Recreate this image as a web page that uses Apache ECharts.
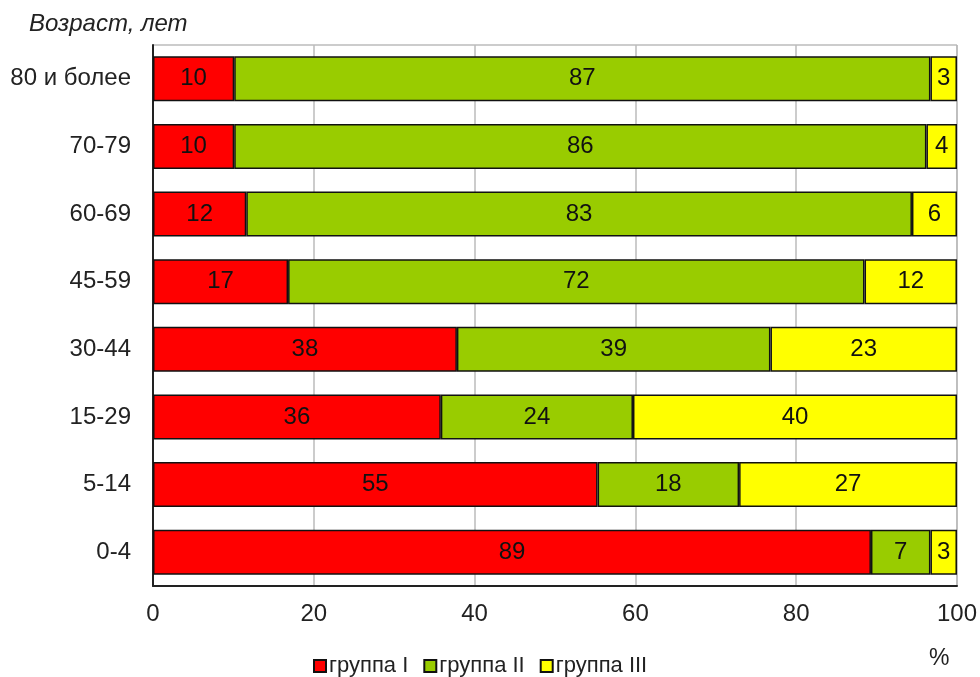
<!DOCTYPE html>
<html>
<head>
<meta charset="utf-8">
<script src="https://cdn.jsdelivr.net/npm/echarts@6/dist/echarts.min.js"></script>
<style>
  html, body { margin: 0; padding: 0; background: #fff; }
  #chart { width: 980px; height: 677px; }
</style>
</head>
<body>
<div id="chart"></div>
<script>
// age groups, bottom to top
const ageGroups = ["0-4", "5-14", "15-29", "30-44", "45-59", "60-69", "70-79", "80 и более"];
const seriesNames = ["группа I", "группа II", "группа III"];
// shares, % (labels are rounded)
const group1 = [89.3, 55.3, 35.8, 37.8, 16.8, 11.6, 10.1, 10.1];
const group2 = [7.4, 17.6, 23.9, 39.0, 71.7, 82.8, 86.1, 86.6];
const group3 = [3.3, 27.1, 40.3, 23.2, 11.5, 5.6, 3.8, 3.3];
const xTicks = [0, 20, 40, 60, 80, 100];

const colors = ["#ff0000", "#99cc00", "#ffff00"];
const font = "Liberation Sans, Arial, sans-serif";

const chart = echarts.init(document.getElementById("chart"));

function makeSeries(name, data, color) {
  return {
    name: name,
    type: "bar",
    stack: "total",
    barWidth: 45,
    data: data,
    itemStyle: { color: color, borderColor: "#111", borderWidth: 1.5 },
    label: {
      show: true,
      position: "inside",
      color: "#111",
      fontFamily: font,
      fontSize: 24,
      formatter: (p) => Math.round(p.value),
    },
  };
}

chart.setOption({
  animation: false,
  title: [
    {
      text: "Возраст, лет",
      left: 24,
      top: 7,
      textStyle: { fontFamily: font, fontSize: 24, fontStyle: "italic", fontWeight: "normal", color: "#222" },
    },
    {
      text: "%",
      left: 924,
      top: 642,
      textStyle: { fontFamily: font, fontSize: 23, fontWeight: "normal", color: "#222" },
    },
  ],
  legend: {
    data: seriesNames,
    left: 313,
    top: 655,
    padding: 0,
    icon: "rect",
    itemWidth: 12,
    itemHeight: 12,
    itemGap: 15,
    textStyle: { fontFamily: font, fontSize: 22, color: "#222", padding: [0, 0, 0, -2] },
  },
  grid: {
    left: 153,
    right: 23,
    top: 45,
    bottom: 91,
    show: true,
    borderColor: "#999",
    borderWidth: 1,
  },
  xAxis: {
    type: "value",
    min: xTicks[0],
    max: xTicks[xTicks.length - 1],
    interval: 20,
    axisLine: { show: true, lineStyle: { color: "#222", width: 2 } },
    axisTick: { show: false },
    splitLine: { lineStyle: { color: "#bbb", width: 1.5 } },
    axisLabel: { fontFamily: font, fontSize: 24, color: "#222", margin: 16 },
  },
  yAxis: {
    type: "category",
    data: ageGroups,
    axisLine: { show: true, lineStyle: { color: "#222", width: 2 } },
    axisTick: { show: false },
    axisLabel: { fontFamily: font, fontSize: 24, color: "#222", margin: 22 },
  },
  series: [
    makeSeries(seriesNames[0], group1, colors[0]),
    makeSeries(seriesNames[1], group2, colors[1]),
    makeSeries(seriesNames[2], group3, colors[2]),
  ],
});
</script>
</body>
</html>
